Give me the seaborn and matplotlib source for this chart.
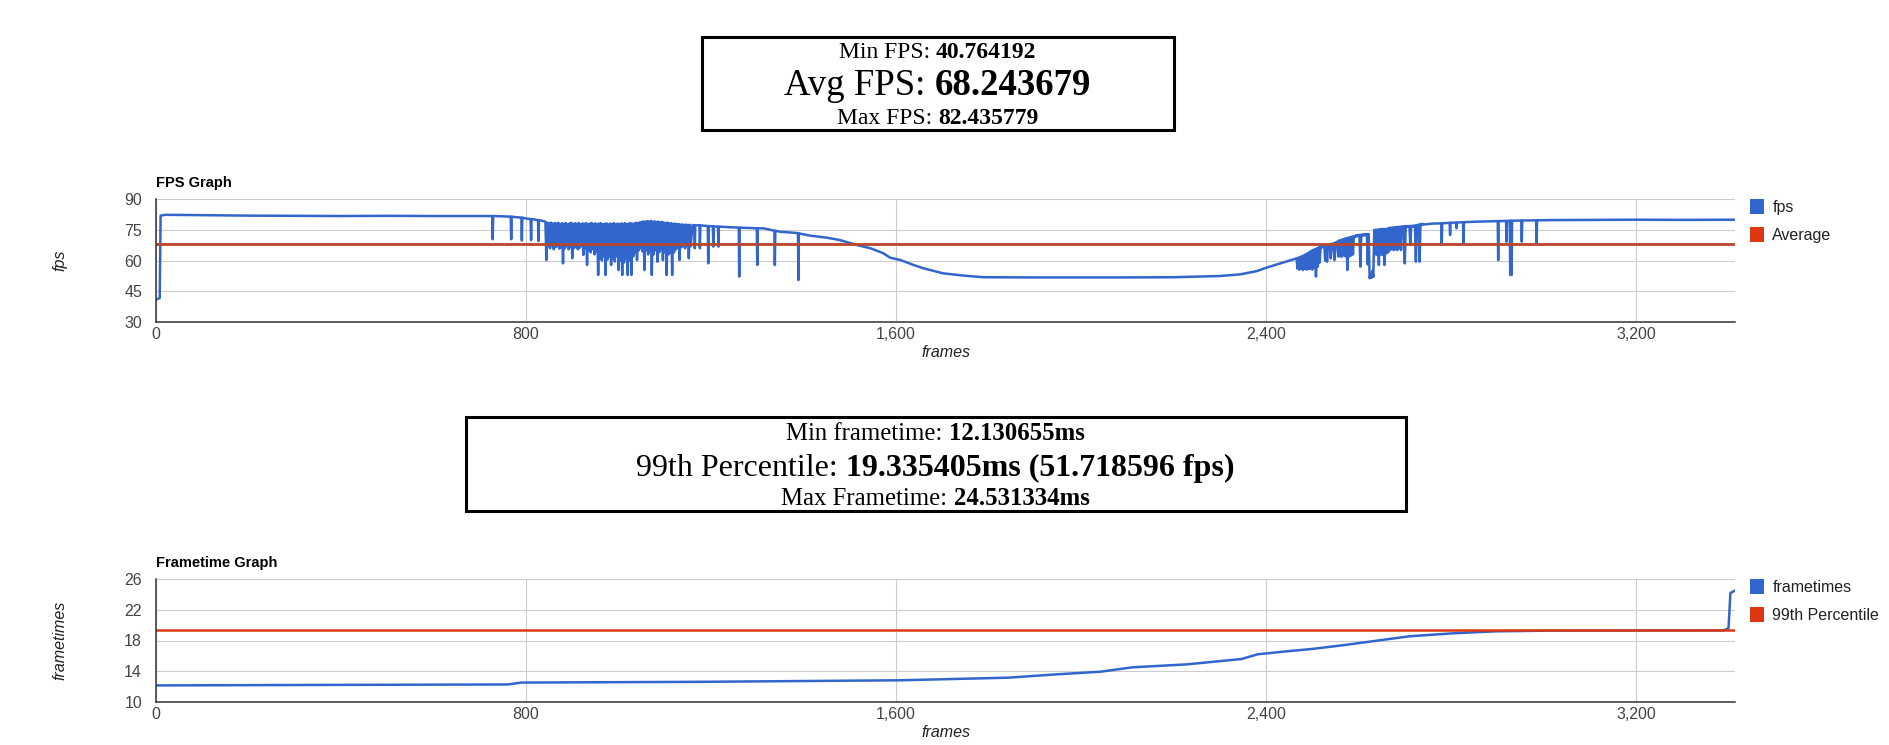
import numpy as np
import pandas as pd
import matplotlib
matplotlib.use("Agg")
import matplotlib.pyplot as plt
import matplotlib.transforms as mtransforms
from matplotlib.patches import Rectangle, Patch
from matplotlib.ticker import FuncFormatter, FixedLocator
import seaborn as sns

# ---------------- data ----------------
min_fps = 40.764192
avg_fps = 68.243679
max_fps = 82.435779
min_frametime = 12.130655
p99_frametime = 19.335405
p99_fps = 51.718596
max_frametime = 24.531334

# smooth part of the fps trace (frame, fps)
fps_base_frames = [0, 4, 8, 10, 20, 60, 120, 200, 300, 400, 500, 600, 700, 740, 780, 800,
                   820, 836, 1160, 1200, 1256, 1313, 1349, 1385, 1414, 1450, 1479, 1515,
                   1545, 1573, 1587, 1610, 1638, 1659, 1680, 1702, 1746, 1789, 1900, 2000,
                   2084, 2200, 2300, 2344, 2380, 2401, 2430, 2460, 2760, 2850, 2900, 2950,
                   3014, 3100, 3200, 3300, 3414]
fps_base_values = [40.8, 41.2, 41.6, 82.0, 82.4, 82.3, 82.1, 82.0, 81.9, 81.8, 81.9, 81.8,
                   81.8, 81.7, 81.2, 80.6, 80.0, 79.4, 77.4, 76.8, 76.1, 75.8, 74.1, 73.5,
                   72.2, 71.2, 70.0, 67.6, 66.0, 63.5, 61.4, 60.2, 57.8, 56.2, 55.0, 53.7,
                   52.6, 51.8, 51.7, 51.7, 51.7, 51.8, 52.4, 53.2, 54.8, 56.5, 58.5, 60.6,
                   78.1, 79.0, 79.3, 79.6, 79.8, 79.9, 80.0, 79.9, 80.0]

# isolated single-frame drops (frame, level before/after, bottom)
spike_frames = [728, 768, 791, 811, 827, 1165, 1176, 1194, 1205, 1216, 1261, 1300, 1338,
                1389, 2780, 2798, 2812, 2827, 2902, 2920, 2928, 2931, 2953, 2985]
spike_tops = [81.8, 81.5, 81.0, 80.3, 79.8, 77.3, 77.2, 76.9, 76.7, 76.6, 76.1, 75.8, 74.6,
              73.3, 78.2, 78.5, 78.6, 78.8, 79.3, 79.4, 79.5, 79.5, 79.6, 79.7]
spike_bottoms = [70.4, 70.4, 69.8, 70.0, 69.5, 66.0, 66.0, 58.6, 66.8, 66.8, 52.1, 57.8, 57.8,
                 50.4, 68.4, 72.5, 75.8, 68.4, 60.2, 69.2, 52.9, 52.9, 69.2, 68.4]

# densely oscillating stretch #1 (frames 842..1154, every 4th frame)
dense1_frames = list(range(842, 1157, 4))
dense1_tops = [79, 78.5, 78.2, 78.6, 78, 78.4, 78.1, 78.5, 77.9, 78.3, 78,
               78.4, 77.8, 78.2, 78.5, 77.9, 78.3, 78, 78.4, 77.8, 78.2,
               78, 78.3, 77.7, 78.1, 78.4, 77.9, 78.2, 77.8, 78.1, 78.3,
               77.8, 78, 78.2, 77.7, 78.1, 78, 78.3, 77.8, 78.1, 77.9,
               78.2, 78, 78.3, 77.9, 78.1, 78.4, 78, 78.2, 78.5, 78.3,
               78.7, 78.9, 79.2, 79, 79.3, 79.1, 79.4, 79, 79.2, 78.9,
               79.1, 78.7, 78.9, 78.6, 78.4, 78.6, 78.2, 78.3, 78, 78.1,
               77.8, 77.9, 77.6, 77.7, 77.5, 77.6, 77.4, 77.5]
dense1_bottoms = [60.2, 67, 66, 67.5, 65.5, 66.5, 67, 65.8, 66.5, 58.6,
                  66, 67, 65.5, 66.5, 61.1, 66, 67, 65.5, 66.2, 67,
                  62.7, 66, 57.8, 65, 64, 65.5, 63, 64.5, 52.9, 61,
                  60, 62, 52.9, 60.5, 62, 57.8, 61, 59.5, 62, 55.3,
                  60, 52.9, 59, 61, 52.9, 60, 52.9, 62, 64, 60.2,
                  65, 66, 64.5, 55.3, 65, 63, 64.5, 52.9, 63, 65,
                  59.4, 64, 65.5, 60.2, 64, 52.9, 63, 64, 52.9, 64,
                  65.5, 66, 60.2, 66.5, 67, 66, 67.5, 61.1, 67]

# densely oscillating stretch #2 (frames 2466..2738, every 4th frame)
dense2_frames = list(range(2466, 2739, 4))
dense2_tops = [61.1, 61.4, 61.8, 62.2, 62.6, 63.2, 63.6, 64.2, 64.8, 65.2,
               65.6, 66, 66.5, 66.8, 67.1, 67.3, 67.6, 67.8, 68.0, 68.2,
               68.4, 68.8, 69.3, 69.8, 70.1, 70.4, 70.7, 71.0, 71.2, 71.5,
               71.7, 72.0, 72.3, 72.5, 72.6, 72.7, 72.8, 72.9, 73.0, 73.0,
               53.0, 55.0, 75.0, 75.1, 75.2, 75.3, 75.4, 75.5, 75.5, 75.6,
               76.0, 76.1, 76.2, 76.3, 76.4, 76.5, 76.6, 76.7, 76.8, 76.9,
               76.9, 77.0, 77.0, 77.1, 77.2, 77.4, 77.6, 77.9, 78.0]
dense2_bottoms = [56, 55.5, 56, 55.3, 56, 55.5, 55.8, 56, 55.5, 56.5,
                  52.1, 57, 59, 66.3, 66.7, 60, 59.4, 67.3, 61, 67.8,
                  60.2, 68.3, 62, 62, 61.9, 62.5, 62, 55.3, 62, 62.5,
                  63, 71.5, 71.8, 72.0, 57, 72.2, 72.3, 72.4, 58, 51.3,
                  51.5, 52, 63, 62.7, 57.8, 63, 62.7, 57.8, 63.5, 64,
                  65.1, 65.5, 65.1, 65.5, 65.1, 66, 65.1, 76.2, 58.6, 76.4,
                  76.5, 67.6, 76.6, 76.7, 59.4, 77, 59.4, 77.5, 77.6]

# sorted frametimes (ms)
ft_frames = [0, 120, 400, 760, 790, 1180, 1609, 1843, 1948, 2042, 2112, 2229, 2347, 2382,
             2452, 2499, 2570, 2640, 2710, 2804, 2897, 3014, 3390, 3400, 3404, 3414]
ft_values = [12.13, 12.15, 12.2, 12.25, 12.5, 12.6, 12.8, 13.14, 13.58, 13.92, 14.5, 14.88,
             15.58, 16.2, 16.63, 16.89, 17.41, 17.98, 18.55, 18.94, 19.2, 19.29, 19.33,
             19.6, 24.2, 24.53]

x_ticks = [0, 800, 1600, 2400, 3200]
fps_ticks = [30, 45, 60, 75, 90]
ft_ticks = [10, 14, 18, 22, 26]

# ---------------- build tables ----------------
fr, vals = list(fps_base_frames), list(fps_base_values)
for f, t, b in zip(spike_frames, spike_tops, spike_bottoms):
    fr += [f - 1, f, f + 1]
    vals += [t, b, t]
for f, t, b in zip(dense1_frames, dense1_tops, dense1_bottoms):
    fr += [f, f + 2]
    vals += [t, b]
for f, t, b in zip(dense2_frames, dense2_tops, dense2_bottoms):
    fr += [f, f + 2]
    vals += [t, b]
fps_df = pd.DataFrame({"frame": fr, "fps": vals}).sort_values("frame").reset_index(drop=True)
x_end = fps_df["frame"].max()
avg_df = pd.DataFrame({"frame": [0, x_end], "fps": [avg_fps, avg_fps]})
ft_df = pd.DataFrame({"frame": ft_frames, "frametimes": ft_values})
p99_df = pd.DataFrame({"frame": [0, x_end], "frametimes": [p99_frametime, p99_frametime]})

# ---------------- style ----------------
sns.set_theme(style="white")
plt.rcParams['font.family'] = ['Liberation Sans', 'DejaVu Sans']
BLUE = "#3366cc"
RED = "#dc3912"
AVG_RED = "#b8452c"
SERIF = ['Liberation Serif', 'DejaVu Serif']

W, H = 1889, 745
fig = plt.figure(figsize=(W / 100, H / 100), dpi=100)
fig.patch.set_facecolor("white")

ax1 = fig.add_axes([156 / W, 1 - 321.7 / H, 1579 / W, 122.4 / H])
ax2 = fig.add_axes([156 / W, 1 - 701.7 / H, 1579 / W, 122.4 / H])

sns.lineplot(data=fps_df, x="frame", y="fps", ax=ax1, color=BLUE, lw=1.8,
             estimator=None, sort=True, zorder=3)
sns.lineplot(data=avg_df, x="frame", y="fps", ax=ax1, color=AVG_RED, lw=2.0,
             estimator=None, zorder=4)
sns.lineplot(data=ft_df, x="frame", y="frametimes", ax=ax2, color=BLUE, lw=1.8,
             estimator=None, zorder=3)
sns.lineplot(data=p99_df, x="frame", y="frametimes", ax=ax2, color=RED, lw=1.8,
             estimator=None, zorder=4)


def style_axes(ax, yticks, ylabel, title, legend_labels):
    ax.set_xlim(0, x_end)
    ax.set_ylim(yticks[0], yticks[-1])
    ax.xaxis.set_major_locator(FixedLocator(x_ticks))
    ax.yaxis.set_major_locator(FixedLocator(yticks))
    ax.xaxis.set_major_formatter(FuncFormatter(lambda v, p: f"{int(v):,}"))
    ax.grid(True, color="#cccccc", lw=0.8)
    ax.set_axisbelow(True)
    for s in ["top", "right"]:
        ax.spines[s].set_visible(False)
    for s in ["left", "bottom"]:
        ax.spines[s].set_color("#333333")
        ax.spines[s].set_linewidth(1.1)
        ax.spines[s].set_zorder(5)
    ax.tick_params(axis="both", length=0, labelsize=11.5, colors="#444444")
    ax.tick_params(axis="y", pad=10)
    ax.tick_params(axis="x", pad=4)
    ax.set_xlabel("frames", fontsize=11.5, style="italic", color="#222222")
    ax.set_ylabel(ylabel, fontsize=11.5, style="italic", color="#222222")
    ax.xaxis.set_label_coords(0.5, -0.19)
    ax.yaxis.set_label_coords(-0.056, 0.5)
    ax.set_title(title, loc="left", fontsize=10.5, fontweight="bold", pad=9, color="black")
    handles = [Patch(facecolor=BLUE, edgecolor="none"), Patch(facecolor=RED, edgecolor="none")]
    ax.legend(handles, legend_labels, loc="upper left", bbox_to_anchor=(1.0095, 1.0),
              frameon=False, handlelength=0.85, handleheight=1.05, handletextpad=0.55,
              labelspacing=0.75, borderaxespad=0, borderpad=0,
              prop={"size": 11.5}, labelcolor="#222222")


style_axes(ax1, fps_ticks, "fps", "FPS Graph", ["fps", "Average"])
style_axes(ax2, ft_ticks, "frametimes", "Frametime Graph", ["frametimes", "99th Percentile"])

# ---------------- stats boxes ----------------
ident = mtransforms.IdentityTransform()
renderer = fig.canvas.get_renderer()


def mixed_line(cx, baseline_from_top, label, value, size):
    y = H - baseline_from_top
    t1 = fig.text(0, y, label, fontsize=size, family=SERIF, ha="left", va="baseline",
                  transform=ident, color="black")
    t2 = fig.text(0, y, value, fontsize=size, family=SERIF, fontweight="bold", ha="left",
                  va="baseline", transform=ident, color="black")
    w1 = t1.get_window_extent(renderer).width
    w2 = t2.get_window_extent(renderer).width
    sp = 0.25 * size * 100 / 72
    x0 = cx - (w1 + sp + w2) / 2
    t1.set_x(x0)
    t2.set_x(x0 + w1 + sp)


def box(x0, y_top, x1, y_bot):
    r = Rectangle((x0, H - y_bot), x1 - x0, y_bot - y_top, transform=ident, fill=False,
                  lw=2.2, ec="black", zorder=10)
    fig.add_artist(r)


box(701.5, 36.5, 1173.5, 129.5)
cx1 = (701.5 + 1173.5) / 2
mixed_line(cx1, 58.5, "Min FPS:", f"{min_fps:.6f}", 17)
mixed_line(cx1, 95, "Avg FPS:", f"{avg_fps:.6f}", 26.5)
mixed_line(cx1, 124, "Max FPS:", f"{max_fps:.6f}", 17)

box(465.5, 417, 1405.5, 510.5)
cx2 = (465.5 + 1405.5) / 2
mixed_line(cx2, 439.5, "Min frametime:", f"{min_frametime:.6f}ms", 17.8)
mixed_line(cx2, 476, "99th Percentile:", f"{p99_frametime:.6f}ms ({p99_fps:.6f} fps)", 23)
mixed_line(cx2, 505, "Max Frametime:", f"{max_frametime:.6f}ms", 17.8)

fig.savefig("out.png", dpi=100, facecolor="white")
